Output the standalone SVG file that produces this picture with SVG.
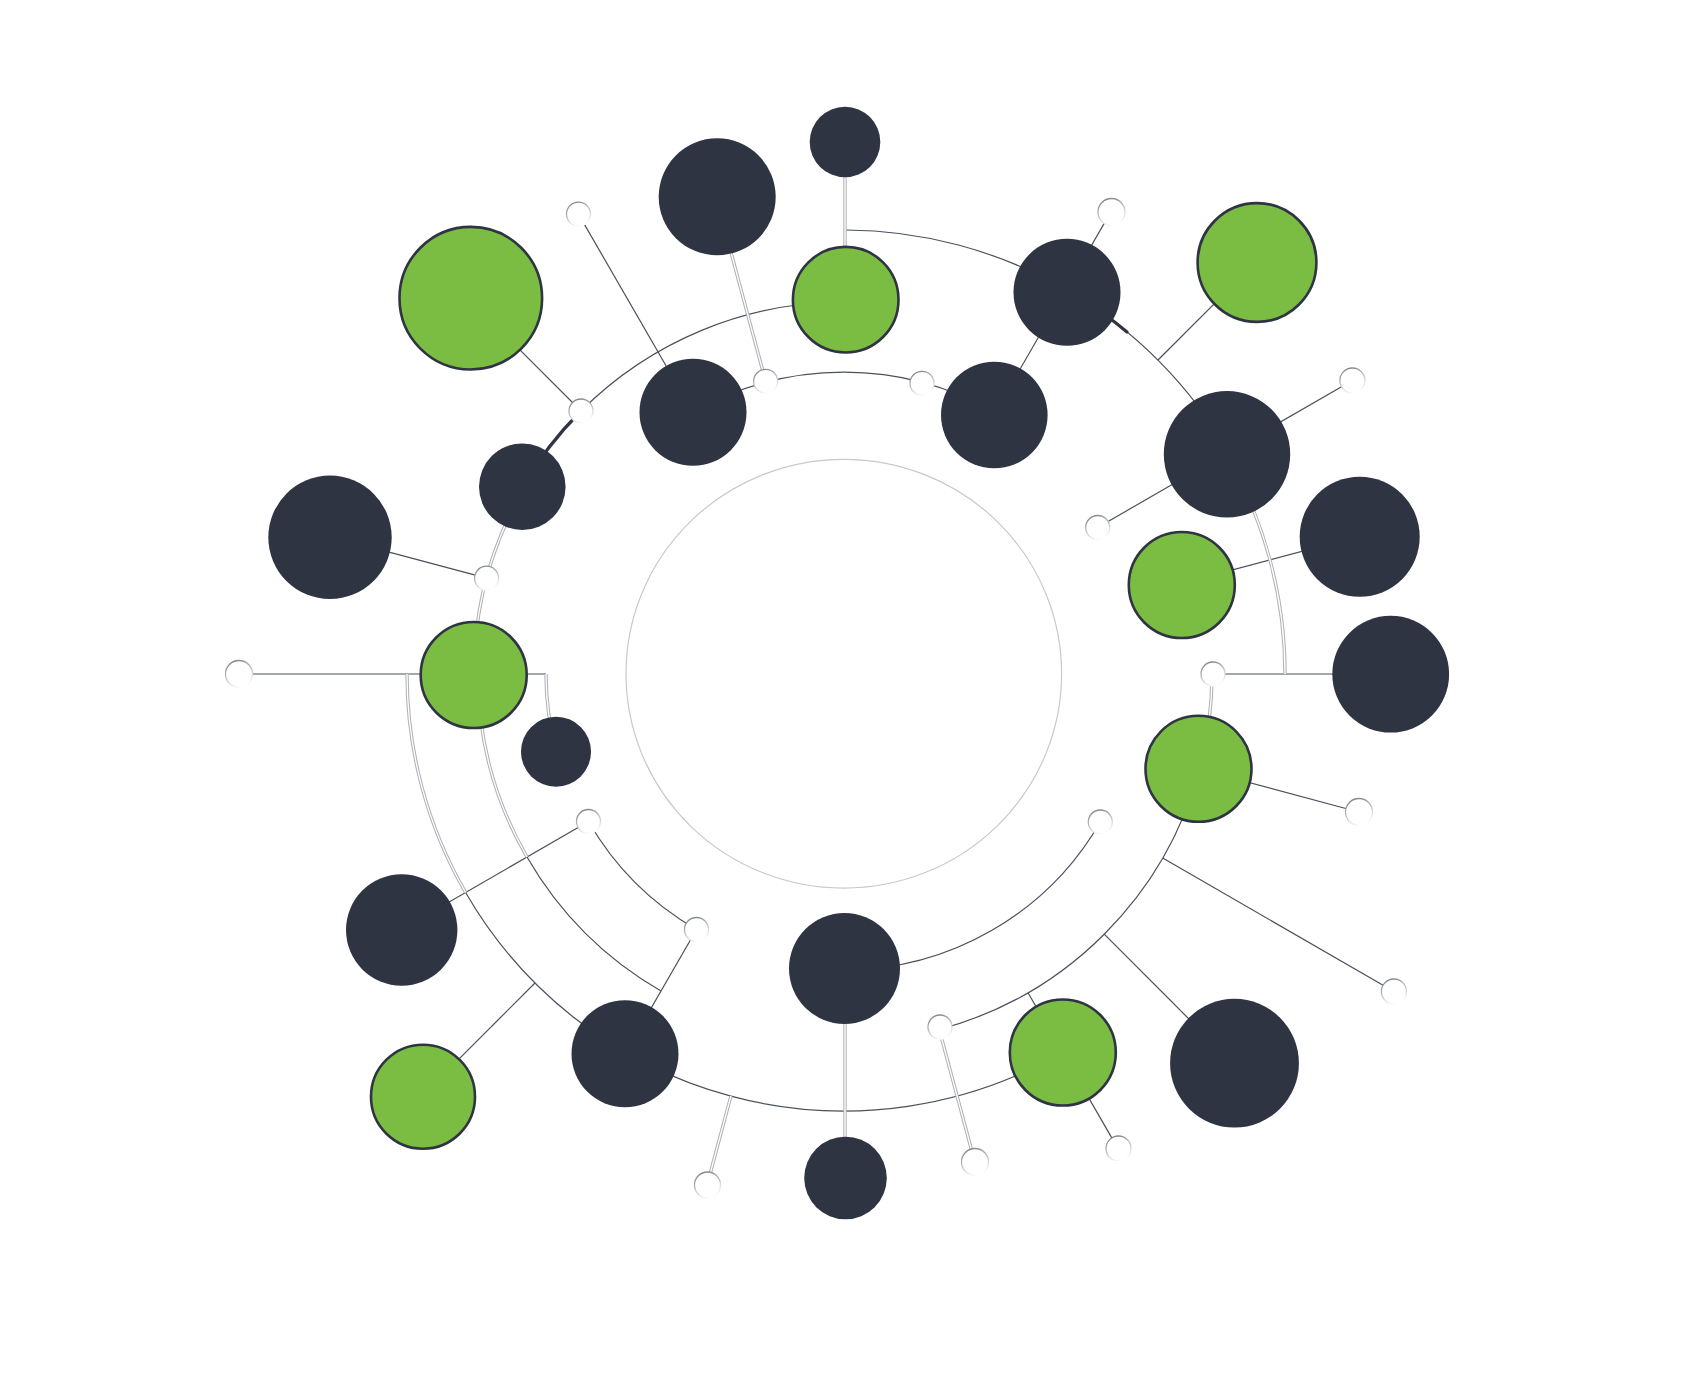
<svg xmlns="http://www.w3.org/2000/svg" width="1698" height="1394" viewBox="0 0 1698 1394">
<defs>
<linearGradient id="portStroke" x1="0.2" y1="0" x2="0.6" y2="1">
<stop offset="0" stop-color="#7a7e88"/>
<stop offset="0.55" stop-color="#c4c6cc"/>
<stop offset="1" stop-color="#ffffff"/>
</linearGradient>
</defs>
<style>
.hub{fill:#ffffff;stroke:#c9c9c9;stroke-width:1.2}
.ln{fill:none;stroke:#4b505c;stroke-width:1.2}
.thick{fill:none;stroke:#2f3443;stroke-width:3.2;stroke-linecap:round}
.dbl{fill:none;stroke:#b0b2b8;stroke-width:3.4}
.dbl-in{fill:none;stroke:#ffffff;stroke-width:1.3}
.port{fill:#ffffff;stroke:url(#portStroke);stroke-width:1.3}
.dark{fill:#2f3443}
.green{fill:#7bbd43;stroke:#2f3443;stroke-width:2.6}
</style>
<rect width="1698" height="1394" fill="#ffffff"/>
<ellipse class="hub" cx="843.8" cy="673.7" rx="217.8" ry="214.4"/>

<g id="connectors">
  <!-- thin dark arcs -->
  <path class="ln" d="M 846 230 A 444 444 0 0 1 1228.5 452"/>
  <path class="ln" d="M 581 411 A 372 372 0 0 1 844 302"/>
  <path class="ln" d="M 693 412.5 A 302 302 0 0 1 995 412.5"/>
  <path class="ln" d="M 1199.5 769.2 A 368 368 0 0 1 939.2 1029.5"/>
  <path class="ln" d="M 1100.3 822 A 296 296 0 0 1 844 970"/>
  <path class="ln" d="M 1062.5 1052.5 A 437 437 0 0 1 465.6 892.5"/>
  <path class="ln" d="M 661 991 A 366 366 0 0 1 527 857"/>
  <path class="ln" d="M 696.5 929.5 A 295 295 0 0 1 588.5 821.5"/>
  <!-- thin dark radial lines -->
  <path class="ln" d="M 693 412.5 L 578.5 214.1"/>
  <path class="ln" d="M 581 411 L 469.2 299.2"/>
  <path class="ln" d="M 994 414.2 L 1111 211.6"/>
  <path class="ln" d="M 1158 360 L 1256.2 261.8"/>
  <path class="ln" d="M 1097.7 527.5 L 1352.4 380.5"/>
  <path class="ln" d="M 1181.1 583.7 L 1359.8 535.8"/>
  <path class="ln" d="M 1213 674 L 1391 674" stroke="#6e727c"/>
  <path class="ln" d="M 1198.5 769 L 1358.8 812"/>
  <path class="ln" d="M 1162.7 858 L 1393.9 991.5"/>
  <path class="ln" d="M 1104.2 934.2 L 1233.6 1063.6"/>
  <path class="ln" d="M 1028 992.7 L 1118 1148.6"/>
  <path class="ln" d="M 696.5 929.5 L 625.5 1052.5"/>
  <path class="ln" d="M 535 983 L 421.9 1096.1"/>
  <path class="ln" d="M 588.5 821.5 L 401.5 929.5"/>
  <path class="ln" d="M 239 674 L 546 674" stroke="#6e727c"/>
  <path class="ln" d="M 486.6 578.2 L 330.1 536.3"/>
  <!-- thick segments -->
  <path class="thick" d="M 521.8 488 A 372 372 0 0 1 581 411"/>
  <path class="thick" d="M 1105 314.8 A 444 444 0 0 1 1127 332"/>
  <!-- double light lines -->
  <g>
    <path class="dbl" d="M 1225.9 453.5 A 441 441 0 0 1 1285 674"/>
    <path class="dbl" d="M 523.6 489 A 370 370 0 0 0 474 674"/>
    <path class="dbl" d="M 1212 674 A 368 368 0 0 1 1199.5 769.2"/>
    <path class="dbl" d="M 465.6 892.5 A 437 437 0 0 1 407 674"/>
    <path class="dbl" d="M 527 857 A 366 366 0 0 1 478 674"/>
    <path class="dbl" d="M 546 674 A 298 298 0 0 0 556.2 751.1"/>
    <path class="dbl" d="M 845 300 L 845 142"/>
    <path class="dbl" d="M 765.6 381.3 L 716.1 196.8"/>
    <path class="dbl" d="M 938.7 1027.5 L 974.7 1161.8"/>
    <path class="dbl" d="M 845 969 L 845 1177"/>
    <path class="dbl" d="M 730.9 1096.1 L 707.1 1185"/>
  </g>
  <g>
    <path class="dbl-in" d="M 1225.9 453.5 A 441 441 0 0 1 1285 674"/>
    <path class="dbl-in" d="M 523.6 489 A 370 370 0 0 0 474 674"/>
    <path class="dbl-in" d="M 1212 674 A 368 368 0 0 1 1199.5 769.2"/>
    <path class="dbl-in" d="M 465.6 892.5 A 437 437 0 0 1 407 674"/>
    <path class="dbl-in" d="M 527 857 A 366 366 0 0 1 478 674"/>
    <path class="dbl-in" d="M 546 674 A 298 298 0 0 0 556.2 751.1"/>
    <path class="dbl-in" d="M 845 300 L 845 142"/>
    <path class="dbl-in" d="M 765.6 381.3 L 716.1 196.8"/>
    <path class="dbl-in" d="M 938.7 1027.5 L 974.7 1161.8"/>
    <path class="dbl-in" d="M 845 969 L 845 1177"/>
    <path class="dbl-in" d="M 730.9 1096.1 L 707.1 1185"/>
  </g>
</g>

<g id="ports">
  <g id="port-1"><circle class="port" cx="578.5" cy="214.1" r="12"/></g>
  <g id="port-2"><circle class="port" cx="581" cy="411" r="12"/></g>
  <g id="port-3"><circle class="port" cx="765.6" cy="381.3" r="12"/></g>
  <g id="port-4"><circle class="port" cx="922" cy="383.3" r="12"/></g>
  <g id="port-5"><circle class="port" cx="1111.5" cy="212" r="13.5"/></g>
  <g id="port-6"><circle class="port" cx="1352.4" cy="380.5" r="12.5"/></g>
  <g id="port-7"><circle class="port" cx="1097.7" cy="527.5" r="12"/></g>
  <g id="port-8"><circle class="port" cx="486.6" cy="578.2" r="12"/></g>
  <g id="port-9"><circle class="port" cx="239" cy="674" r="13.5"/></g>
  <g id="port-10"><circle class="port" cx="1213" cy="674" r="12"/></g>
  <g id="port-11"><circle class="port" cx="1359" cy="812" r="13.5"/></g>
  <g id="port-12"><circle class="port" cx="1100.3" cy="822" r="12"/></g>
  <g id="port-13"><circle class="port" cx="1393.9" cy="991.5" r="12.5"/></g>
  <g id="port-14"><circle class="port" cx="588.5" cy="821.5" r="12"/></g>
  <g id="port-15"><circle class="port" cx="696.5" cy="929.5" r="12"/></g>
  <g id="port-16"><circle class="port" cx="940" cy="1027" r="12"/></g>
  <g id="port-17"><circle class="port" cx="975" cy="1162" r="13.5"/></g>
  <g id="port-18"><circle class="port" cx="1118.5" cy="1148.5" r="12.5"/></g>
  <g id="port-19"><circle class="port" cx="707.5" cy="1185" r="13"/></g>
</g>

<g id="node-1"><circle class="dark" cx="845" cy="142" r="35.3"/></g>
<g id="node-2"><circle class="dark" cx="717.2" cy="196.8" r="58.5"/></g>
<g id="node-3"><circle class="green" cx="470.8" cy="298.2" r="71.3"/></g>
<g id="node-4"><circle class="green" cx="845.7" cy="299.7" r="52.8"/></g>
<g id="node-5"><circle class="dark" cx="1067" cy="292.3" r="53.5"/></g>
<g id="node-6"><circle class="green" cx="1257" cy="262.5" r="59.4"/></g>
<g id="node-7"><circle class="dark" cx="693" cy="412.3" r="53.5"/></g>
<g id="node-8"><circle class="dark" cx="994.3" cy="415" r="53.3"/></g>
<g id="node-9"><circle class="dark" cx="1227" cy="454.3" r="63.2"/></g>
<g id="node-10"><circle class="dark" cx="522.3" cy="486.7" r="43.3"/></g>
<g id="node-11"><circle class="dark" cx="330" cy="537.3" r="61.7"/></g>
<g id="node-12"><circle class="green" cx="1181.8" cy="585" r="53"/></g>
<g id="node-13"><circle class="dark" cx="1359.7" cy="536.7" r="60"/></g>
<g id="node-14"><circle class="green" cx="473.7" cy="675" r="53"/></g>
<g id="node-15"><circle class="dark" cx="1390.7" cy="674.2" r="58.4"/></g>
<g id="node-16"><circle class="dark" cx="556" cy="751.7" r="35"/></g>
<g id="node-17"><circle class="green" cx="1198.5" cy="768.8" r="53"/></g>
<g id="node-18"><circle class="dark" cx="401.7" cy="930" r="55.7"/></g>
<g id="node-19"><circle class="dark" cx="844.5" cy="968.5" r="55.5"/></g>
<g id="node-20"><circle class="dark" cx="625" cy="1053.7" r="53.5"/></g>
<g id="node-21"><circle class="green" cx="1062.8" cy="1052.5" r="53"/></g>
<g id="node-22"><circle class="dark" cx="1234.5" cy="1063.2" r="64.4"/></g>
<g id="node-23"><circle class="green" cx="423" cy="1096.7" r="52"/></g>
<g id="node-24"><circle class="dark" cx="845.5" cy="1178" r="41.3"/></g>
</svg>
